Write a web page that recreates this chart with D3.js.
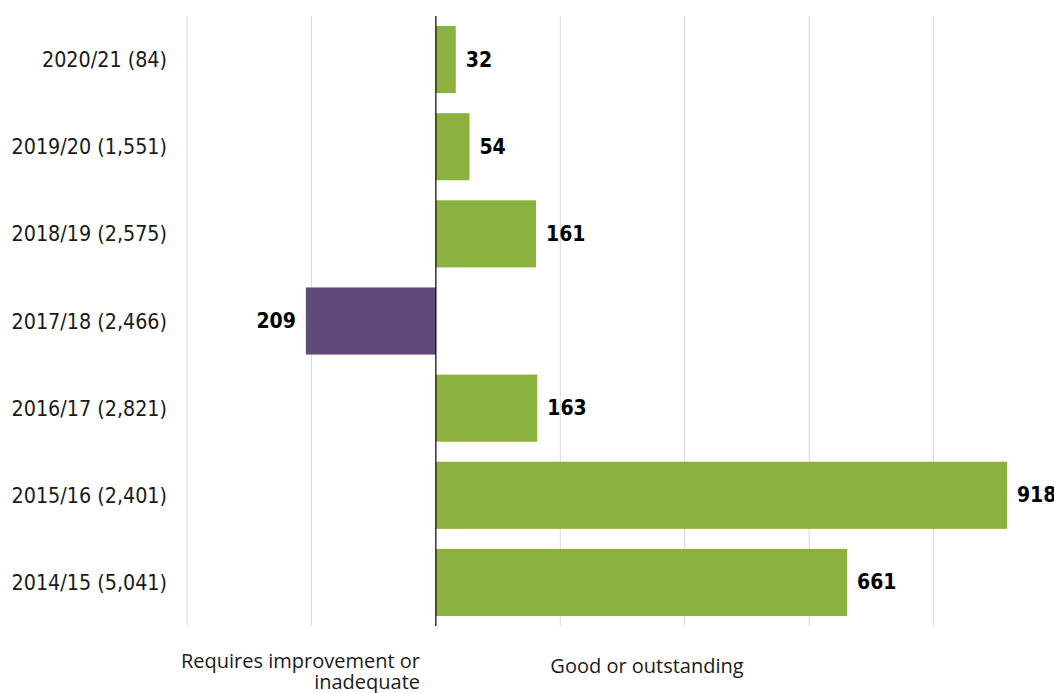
<!DOCTYPE html>
<html><head><meta charset="utf-8">
<script src="https://cdn.jsdelivr.net/npm/d3@7"></script>
<style>
html,body{margin:0;padding:0;background:#fff;}
svg text{font-family:"DejaVu Sans Condensed","DejaVu Sans",sans-serif;}
</style></head>
<body>
<svg id="chart" width="1054" height="693"></svg>
<script>
const categories = ["2020/21 (84)","2019/20 (1,551)","2018/19 (2,575)","2017/18 (2,466)","2016/17 (2,821)","2015/16 (2,401)","2014/15 (5,041)"];
const values = [32, 54, 161, -209, 163, 918, 661];
const tickValues = [-400, -200, 0, 200, 400, 600, 800, 1000];
const bottomLabels = [["Requires improvement or","inadequate"],["Good or outstanding"]];

const svg = d3.select("#chart");
const x = d3.scaleLinear().domain([-400, 1000]).range([187, 1058]);
const y = d3.scaleBand().domain(categories).range([16, 626]).paddingInner(0.23).paddingOuter(0.115);

// gridlines
svg.append("g").selectAll("line").data(tickValues.filter(d => d !== 0)).join("line")
  .attr("x1", d => x(d)).attr("x2", d => x(d))
  .attr("y1", 16).attr("y2", 626)
  .attr("stroke", "#d9d9d9").attr("stroke-width", 1);

// bars
svg.append("g").selectAll("rect").data(values).join("rect")
  .attr("x", d => x(Math.min(0, d)))
  .attr("width", d => Math.abs(x(d) - x(0)))
  .attr("y", (d, i) => y(categories[i]))
  .attr("height", y.bandwidth())
  .attr("fill", d => d < 0 ? "#614a7a" : "#8bb13f");

// zero axis
svg.append("line").attr("x1", x(0)).attr("x2", x(0)).attr("y1", 16).attr("y2", 626)
  .attr("stroke", "#000").attr("stroke-width", 1.2);

// category labels
svg.append("g").selectAll("text").data(categories).join("text")
  .attr("x", 167).attr("y", d => y(d) + y.bandwidth() / 2)
  .attr("text-anchor", "end").attr("dominant-baseline", "central")
  .attr("font-size", 21.3).attr("fill", "#1a1a1a").text(d => d);

// value labels
svg.append("g").selectAll("text").data(values).join("text")
  .attr("x", d => d < 0 ? x(d) - 10 : x(d) + 10)
  .attr("y", (d, i) => y(categories[i]) + y.bandwidth() / 2)
  .attr("text-anchor", d => d < 0 ? "end" : "start").attr("dominant-baseline", "central")
  .attr("font-size", 21).attr("font-weight", "bold").attr("fill", "#000")
  .text(d => Math.abs(d));

// bottom labels
const bl = svg.append("g").attr("font-size", 20).attr("fill", "#1a1a1a");
bl.append("text").attr("x", 420).attr("y", 668).attr("text-anchor", "end")
  .style("font-family", "'Open Sans', sans-serif").text(bottomLabels[0][0]);
bl.append("text").attr("x", 420).attr("y", 689).attr("text-anchor", "end")
  .style("font-family", "'Open Sans', sans-serif").text(bottomLabels[0][1]);
bl.append("text").attr("x", 647).attr("y", 673).attr("text-anchor", "middle")
  .style("font-family", "'Open Sans', sans-serif").text(bottomLabels[1][0]);
</script>
</body></html>
